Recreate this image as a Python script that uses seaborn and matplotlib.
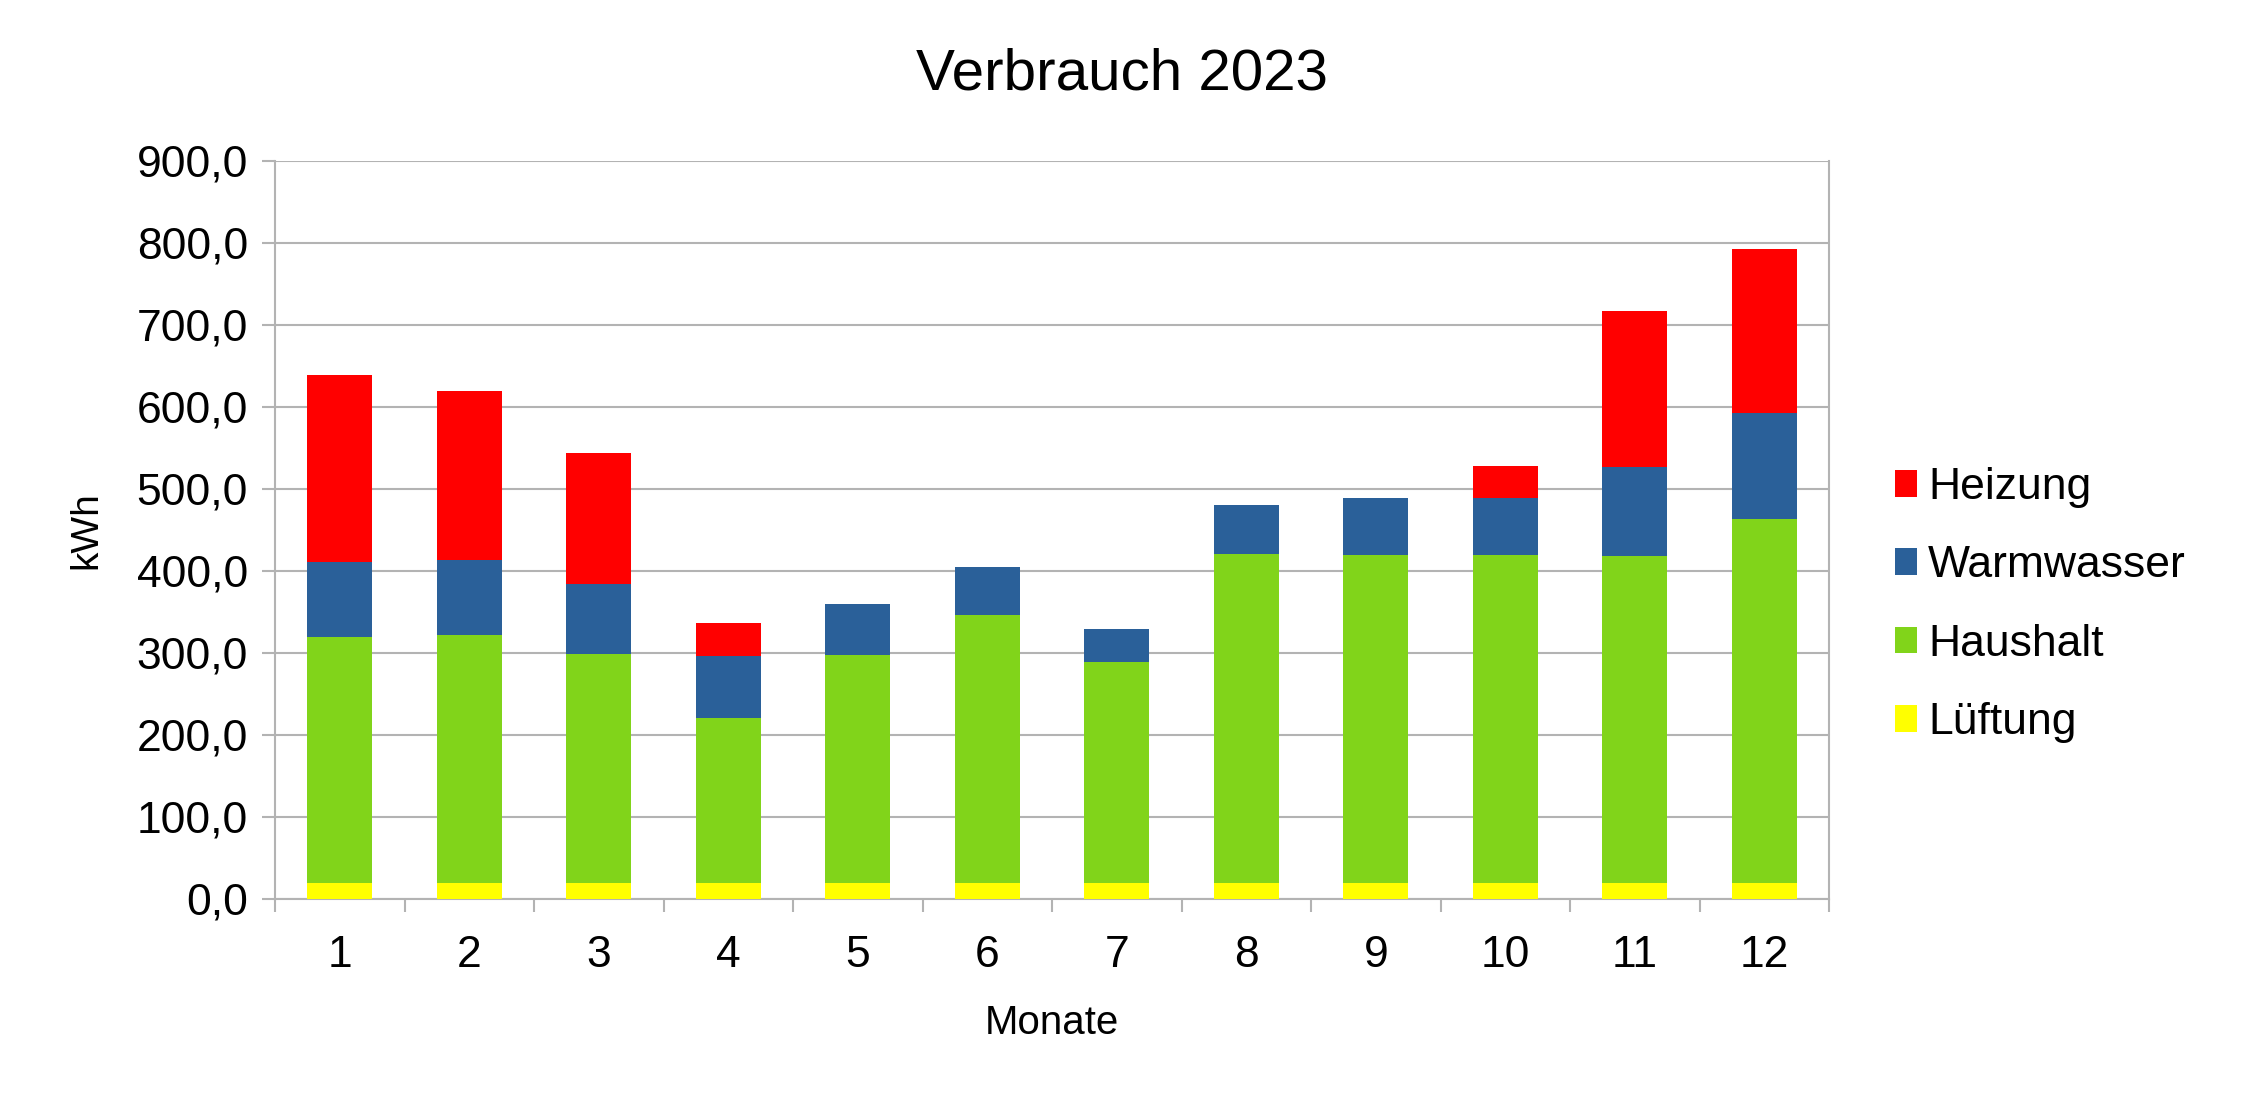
import pandas as pd
import numpy as np
import matplotlib
matplotlib.use('Agg')
import matplotlib.pyplot as plt
from matplotlib.ticker import FuncFormatter, FixedLocator
import seaborn as sns

# Daten (kWh pro Monat)
monate = [1, 2, 3, 4, 5, 6, 7, 8, 9, 10, 11, 12]
lueftung = [19, 19, 19, 19, 19, 19, 19, 19, 19, 19, 19, 19]
haushalt = [300, 302, 279, 201, 278, 327, 270, 401, 400, 400, 399, 444]
warmwasser = [92, 92, 86, 76, 62, 59, 40, 60, 69, 69, 109, 129]
heizung = [227, 206, 159, 40, 0, 0, 0, 0, 0, 40, 190, 200]

farben = {
    'Heizung': '#ff0000',
    'Warmwasser': '#2a6099',
    'Haushalt': '#81d41a',
    'Lüftung': '#ffff00',
}

df = pd.DataFrame({
    'Monat': monate,
    'Lüftung': lueftung,
    'Haushalt': haushalt,
    'Warmwasser': warmwasser,
    'Heizung': heizung,
})
# gestapelt: kumulierte Summen, oberste Schicht zuerst zeichnen
stapel = ['Lüftung', 'Haushalt', 'Warmwasser', 'Heizung']
kum = df[stapel].cumsum(axis=1)
kum['Monat'] = df['Monat']

sns.set_style('white')
plt.rcParams['font.family'] = ['Liberation Sans', 'DejaVu Sans']
plt.rcParams['text.color'] = 'black'
plt.rcParams['axes.labelcolor'] = 'black'
plt.rcParams['xtick.color'] = 'black'
plt.rcParams['ytick.color'] = 'black'

fig = plt.figure(figsize=(22.45, 11), dpi=100)
ax = fig.add_axes([0.1225, 0.183, 0.6922, 0.671])

for name in reversed(stapel):
    sns.barplot(data=kum, x='Monat', y=name, color=farben[name], saturation=1,
                width=0.5, linewidth=0, label=name, ax=ax, zorder=3)

ax.set_ylim(0, 900)
ax.set_xlim(-0.5, 11.5)
ax.set_yticks(np.arange(0, 901, 100))
ax.yaxis.set_major_formatter(FuncFormatter(lambda v, p: f'{v:.1f}'.replace('.', ',')))

grau = '#b3b3b3'
ax.grid(axis='y', color=grau, linewidth=1.5, zorder=0)
ax.set_axisbelow(True)
for s in ['left', 'bottom', 'right']:
    ax.spines[s].set_color(grau)
    ax.spines[s].set_linewidth(1.5)
ax.spines['top'].set_visible(False)

ax.tick_params(axis='y', which='major', length=9.5, width=1.5, color=grau,
               labelcolor='black', labelsize=32, pad=10, left=True)
ax.tick_params(axis='x', which='major', length=0, labelsize=32, pad=26,
               labelcolor='black')
ax.xaxis.set_minor_locator(FixedLocator(np.arange(-0.5, 12, 1)))
ax.tick_params(axis='x', which='minor', length=9.5, width=1.5, color=grau, bottom=True)

ax.set_xlabel('Monate', fontsize=29, labelpad=20)
ax.set_ylabel('kWh', fontsize=28)
ax.yaxis.set_label_coords(-0.110, 0.5)

fig.text(0.5, 1 - 74 / 1100, 'Verbrauch 2023', fontsize=42, ha='center', va='center')

handles, labels = ax.get_legend_handles_labels()
if ax.get_legend() is not None:
    ax.get_legend().remove()
fig.legend(handles, labels, loc='center left', bbox_to_anchor=(0.844, 0.45),
           frameon=False, fontsize=32, handlelength=0.5, handleheight=0.55,
           handletextpad=0.25, labelspacing=0.84, borderpad=0, borderaxespad=0)

fig.savefig('out.png', dpi=100)
